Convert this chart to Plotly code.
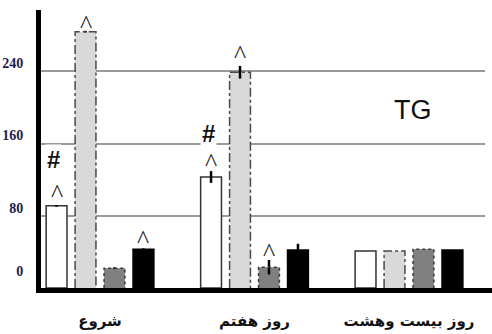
import plotly.graph_objects as go

# ---- data ----
groups = ["شروع", "روز هفتم", "روز بیست وهشت"]
series_names = ["A", "B", "C", "D"]
white_vals = [91, 123, 41]
lightgray_vals = [284, 239, 41]
darkgray_vals = [22, 23, 43]
black_vals = [43, 42, 42]
white_err = [1, 6.5, 0]
lightgray_err = [1, 7, 0]
darkgray_err = [1, 8, 0]
black_err = [1, 7, 0]
y_tick_vals = [0, 80, 160, 240]
y_tick_text = ["0<br> ", "80", "160", "240"]
# significance markers: (series index, group index, text)
sig_marks = [(0, 0, "^"), (0, 0, "#"), (1, 0, "^"), (3, 0, "^"),
             (0, 1, "^"), (0, 1, "#"), (1, 1, "^"), (2, 1, "^")]
chart_title = "TG"

# ---- styling ----
sig_shift_px = [12, 46, 7.5, 10, 14.5, 43, 18, 15]
values = [white_vals, lightgray_vals, darkgray_vals, black_vals]
errors = [white_err, lightgray_err, darkgray_err, black_err]
fills = ["#ffffff", "#d9d9d9", "#808080", "#000000"]
edge_colors = ["#333333", "#4a4a4a", "#3a3a3a", "#000000"]
edge_dash = [None, "dashdot", "dot", None]
n = len(values)
bargap = 0.25
bargroupgap = 0.28
slot = (1 - bargap) / n
half_w = slot * (1 - bargroupgap) / 2

def center(i, g):
    return g + (-(1 - bargap) / 2 + slot * (i + 0.5))

xs = list(range(len(groups)))
fig = go.Figure()
for i in range(n):
    fig.add_trace(go.Bar(
        x=xs, y=values[i], name=series_names[i],
        marker=dict(color=fills[i],
                    line=dict(color=edge_colors[i], width=1.5 if edge_dash[i] is None else 0)),
        error_y=dict(type="data", array=errors[i], visible=True,
                     color="black", thickness=2.5, width=0),
        showlegend=False,
    ))
# dashed outlines for the patterned bars
for i in range(n):
    if edge_dash[i] is None:
        continue
    ox, oy = [], []
    for g in xs:
        c = center(i, g)
        v = values[i][g]
        ox += [c - half_w, c - half_w, c + half_w, c + half_w, None]
        oy += [0, v, v, 0, None]
    fig.add_trace(go.Scatter(x=ox, y=oy, mode="lines",
                             line=dict(color=edge_colors[i], width=1.5, dash=edge_dash[i]),
                             showlegend=False, hoverinfo="skip"))

annotations = []
for k, (i, g, t) in enumerate(sig_marks):
    v = values[i][g]
    if t == "^":
        annotations.append(dict(x=center(i, g), y=v, xref="x", yref="y",
                                text="^", showarrow=False, yanchor="middle",
                                yshift=sig_shift_px[k],
                                font=dict(family="Liberation Serif", size=26, color="#222")))
    else:
        annotations.append(dict(x=center(i, g), y=v, xref="x", yref="y",
                                text="#", showarrow=False, yanchor="middle",
                                yshift=sig_shift_px[k], xshift=-3, bgcolor="white",
                                font=dict(family="Liberation Sans", size=24, color="#111", weight="bold")))
annotations.append(dict(x=0.838, y=0.64, xref="paper", yref="paper", text=chart_title,
                        showarrow=False, xanchor="center", yanchor="middle",
                        font=dict(family="Liberation Sans Narrow, Liberation Sans", size=27, color="#111")))

fig.update_layout(
    width=492, height=334,
    margin=dict(l=41, r=7, t=10, b=46),
    paper_bgcolor="white", plot_bgcolor="white",
    barmode="group", bargap=bargap, bargroupgap=bargroupgap,
    annotations=annotations,
    shapes=[dict(type="line", xref="paper", yref="paper", x0=0.99, x1=1.02,
                 y0=-0.009, y1=-0.009, line=dict(color="black", width=5))],
    xaxis=dict(range=[-0.382, 2.492], tickvals=xs, ticktext=groups, automargin=False,
               showline=True, linecolor="black", linewidth=5, ticks="",
               showgrid=False, zeroline=False, ticklabelstandoff=15,
               tickfont=dict(family="DejaVu Sans", size=15, color="#111", weight="bold")),
    yaxis=dict(range=[0, 308], tickvals=y_tick_vals, ticktext=y_tick_text, automargin=False,
               showline=True, linecolor="black", linewidth=5, ticks="",
               showgrid=True, gridcolor="#9a9a9a", gridwidth=1.5, zeroline=False,
               ticklabelshift=-8, ticklabelstandoff=10,
               tickfont=dict(family="Liberation Serif", size=14, color="#1c1c4c", weight="bold")),
)
fig.write_html("out.html")
